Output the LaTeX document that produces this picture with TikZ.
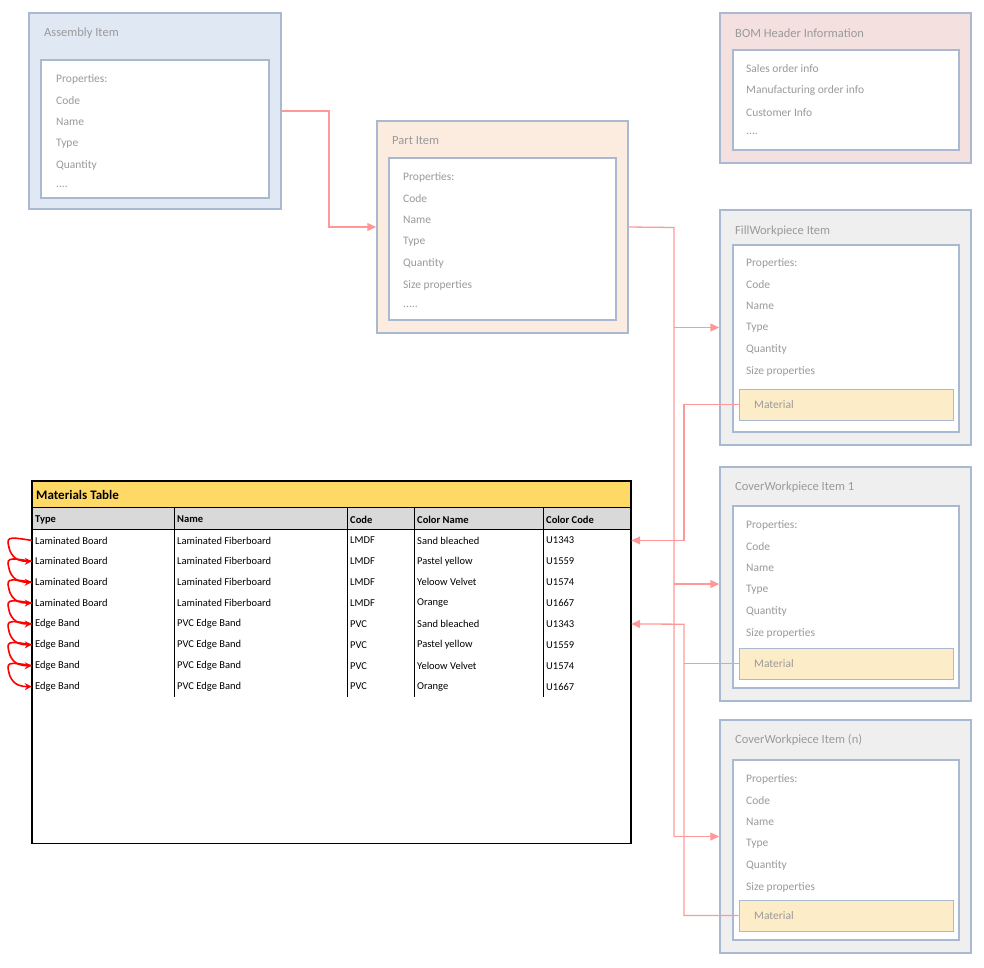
\documentclass[tikz,border=0pt]{standalone}
\usepackage{fontspec}
\setmainfont{Carlito}
\usetikzlibrary{arrows.meta}
\definecolor{bord}{HTML}{A9B9D1}
\definecolor{txt}{HTML}{9A9A9A}
\definecolor{blu}{HTML}{DFE8F3}
\definecolor{pch}{HTML}{FCECDF}
\definecolor{pnk}{HTML}{F5E0E0}
\definecolor{gry}{HTML}{EFEFEF}
\definecolor{mat}{HTML}{FDECC8}
\definecolor{lnk}{HTML}{FF9999}
\definecolor{yel}{HTML}{FFD966}
\definecolor{hdr}{HTML}{D9D9D9}
\newcommand{\fourdots}{.\kern0pt.\kern0pt.\kern0pt.}
\newcommand{\fivedots}{.\kern0pt.\kern0pt.\kern0pt.\kern0pt.}
\newcommand{\bx}[6]{\node[#6,minimum width={#4-#2},minimum height={#5-#3},inner sep=0pt] (#1) at ({(#2+#4)/2},{(#3+#5)/2}) {};}
\tikzset{
 outer/.style={draw=bord,line width=1.5pt},
 inner/.style={draw=bord,line width=1.5pt,fill=white},
 matbox/.style={draw=bord,line width=1pt,fill=mat},
 ttl/.style={anchor=west,text=txt,font=\fontsize{12.5}{14}\selectfont,inner sep=0pt},
 prop/.style={anchor=west,text=txt,font=\fontsize{11.5}{13}\selectfont,inner sep=0pt},
 cell/.style={anchor=west,font=\fontsize{10.5}{12}\selectfont,inner sep=0pt},
 link/.style={draw=lnk,line width=1.3pt},
 larr/.style={link,-{Triangle[length=9pt,width=8pt]}},
 curl/.style={draw=red,line width=1.6pt,-{Stealth[length=7pt,width=7pt]}}
}
\begin{document}
\begin{tikzpicture}[x=1pt,y=-1pt]
\useasboundingbox (0,0) rectangle (984,967);
% Assembly
\bx{asm}{29}{13}{281}{209}{outer,fill=blu}
\bx{asmi}{41}{60}{269}{198}{inner}
\node[ttl] (asmt) at (44,33) {Assembly Item};
\foreach \t [count=\i] in {Properties:,Code,Name,Type,Quantity,\fourdots}
  \node[prop] (asmp\i) at (56,{79+21.6*(\i-1)}) {\t};
% Part
\bx{part}{377}{121}{628}{333}{outer,fill=pch}
\bx{parti}{389}{158}{616}{320}{inner}
\node[ttl] (partt) at (392,141) {Part Item};
\foreach \t [count=\i] in {Properties:,Code,Name,Type,Quantity,Size properties,\fivedots}
  \node[prop] (partp\i) at (403,{177+21.6*(\i-1)}) {\t};
% BOM
\bx{bom}{720}{13}{971}{163}{outer,fill=pnk}
\bx{bomi}{733}{50}{959}{150}{inner}
\node[ttl] (bomt) at (735,33) {BOM Header Information};
\foreach \t [count=\i] in {Sales order info,Manufacturing order info,Customer Info,\fourdots}
  \node[prop] (bomp\i) at (746,{69+21.6*(\i-1)}) {\t};
% Fill
\bx{fill}{720}{210}{971}{445}{outer,fill=gry}
\bx{filli}{733}{245}{959}{432}{inner}
\node[ttl] (fillt) at (735,231) {FillWorkpiece Item};
\foreach \t [count=\i] in {Properties:,Code,Name,Type,Quantity,Size properties}
  \node[prop] (fillp\i) at (746,{263+21.6*(\i-1)}) {\t};
\bx{fillm}{739}{389}{953}{420}{matbox}
\node[prop] (fillmt) at (754,405) {Material};
% Cover 1
\bx{cva}{720}{467}{971}{701}{outer,fill=gry}
\bx{cvai}{733}{506}{959}{688}{inner}
\node[ttl] (cvat) at (735,487) {CoverWorkpiece Item 1};
\foreach \t [count=\i] in {Properties:,Code,Name,Type,Quantity,Size properties}
  \node[prop] (cvap\i) at (746,{525+21.6*(\i-1)}) {\t};
\bx{cvam}{739}{648}{953}{679}{matbox}
\node[prop] (cvamt) at (754,664) {Material};
% Cover n
\bx{cvn}{720}{720}{971}{953}{outer,fill=gry}
\bx{cvni}{733}{760}{959}{940}{inner}
\node[ttl] (cvnt) at (735,740) {CoverWorkpiece Item (n)};
\foreach \t [count=\i] in {Properties:,Code,Name,Type,Quantity,Size properties}
  \node[prop] (cvnp\i) at (746,{779+21.6*(\i-1)}) {\t};
\bx{cvnm}{739}{900}{953}{931}{matbox}
\node[prop] (cvnmt) at (754,916) {Material};
% Table
\bx{tt}{32}{481}{631}{508}{fill=yel}
\bx{th}{32}{508}{631}{530}{fill=hdr}
\node[anchor=west,font=\bfseries\fontsize{13}{15}\selectfont,inner sep=0pt] (ttt) at (36,494.5) {Materials Table};
\foreach \t/\x [count=\i] in {Type/35,Name/177,Code/350,Color Name/417,Color Code/546}
  \node[cell,font=\bfseries\fontsize{10.5}{12}\selectfont] (h\i) at (\x,519.5) {\t};
\foreach \a/\b/\c/\d/\e [count=\r] in {
 Laminated Board/Laminated Fiberboard/LMDF/Sand bleached/U1343,
 Laminated Board/Laminated Fiberboard/LMDF/Pastel yellow/U1559,
 Laminated Board/Laminated Fiberboard/LMDF/Yeloow Velvet/U1574,
 Laminated Board/Laminated Fiberboard/LMDF/Orange/U1667,
 Edge Band/PVC Edge Band/PVC/Sand bleached/U1343,
 Edge Band/PVC Edge Band/PVC/Pastel yellow/U1559,
 Edge Band/PVC Edge Band/PVC/Yeloow Velvet/U1574,
 Edge Band/PVC Edge Band/PVC/Orange/U1667}{
  \bx{r\r}{32}{530+20.875*(\r-1)}{631}{530+20.875*\r}{}
  \node[cell] (c\r a) at (35,{540.4+20.875*(\r-1)}) {\a};
  \node[cell] (c\r b) at (177,{540.4+20.875*(\r-1)}) {\b};
  \node[cell] (c\r c) at (350,{540.4+20.875*(\r-1)}) {\c};
  \node[cell] (c\r d) at (417,{540.4+20.875*(\r-1)}) {\d};
  \node[cell] (c\r e) at (546,{540.4+20.875*(\r-1)}) {\e};
}
\foreach \r in {1,2,3,4,5,6,7,8} \draw[line width=0.8pt] (r\r.north west) -- (r\r.north east);
\draw[line width=0.8pt] (th.north west) -- (th.north east);
\foreach \x in {174,347,414,543} \draw[line width=0.8pt] (\x,508) -- (\x,697);
\draw[line width=1.6pt] (tt.north west) rectangle (r8.south east);
% curly arrows
\foreach \r [evaluate=\r as \n using int(\r+1)] in {1,2,3,4,5,6,7}
  \draw[curl] (r\r.west) .. controls ++(-25,-4) and ++(-4,-14) .. ++(-22,10) .. controls ++(4,10) and ++(-10,0) .. (r\n.west);
% connectors
\coordinate (a1) at (329,111);
\draw[larr] (asm.east) -- (a1) |- (part.west);
\coordinate (b1) at (674,227.5);
\coordinate (b2) at (674,836.5);
\draw[link] (part.east) -- (b1) -- (b2);
\draw[larr] (b1 |- fill.west) -- (fill.west);
\draw[larr] (b1 |- cva.west) -- (cva.west);
\draw[larr] (b2) -- (cvn.west);
\coordinate (m1) at (684,404.5);
\draw[larr] (fillm.west) -- (m1) |- (r1.east);
\coordinate (m2) at (684,624.2);
\draw[larr] (cvnm.west) -| (m2) -- (r5.east);
\draw[link] (cvam.west) -- (cvam.west -| m2);
\end{tikzpicture}
\end{document}
